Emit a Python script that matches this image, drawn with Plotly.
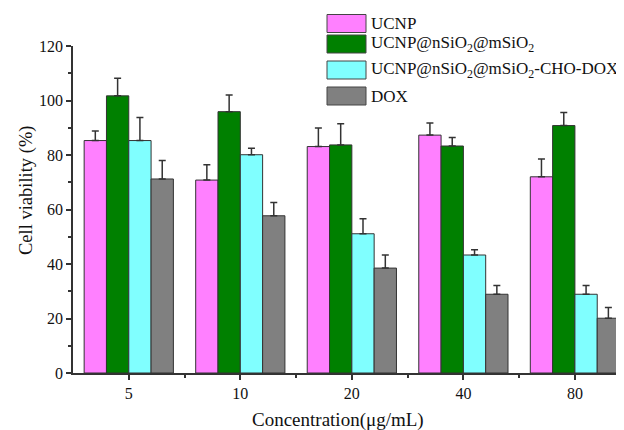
import plotly.graph_objects as go

categories = ["5", "10", "20", "40", "80"]
series_names = ["UCNP", "UCNP@nSiO<sub>2</sub>@mSiO<sub>2</sub>",
                "UCNP@nSiO<sub>2</sub>@mSiO<sub>2</sub>-CHO-DOX", "DOX"]
ucnp = [85.3, 70.8, 83.1, 87.3, 72.0]
ucnp_err = [3.5, 5.6, 6.8, 4.4, 6.5]
ucnp_si = [101.7, 95.9, 83.7, 83.3, 90.8]
ucnp_si_err = [6.5, 6.1, 7.8, 3.1, 4.8]
ucnp_dox = [85.3, 80.1, 51.1, 43.3, 28.9]
ucnp_dox_err = [8.5, 2.4, 5.5, 1.9, 3.2]
dox = [71.2, 57.7, 38.5, 28.9, 20.1]
dox_err = [6.8, 4.9, 4.8, 3.2, 3.9]
colors = ["#FF80FF", "#008000", "#80FFFF", "#808080"]
x_title = "Concentration(μg/mL)"
y_title = "Cell viability (%)"

values = [ucnp, ucnp_si, ucnp_dox, dox]
errors = [ucnp_err, ucnp_si_err, ucnp_dox_err, dox_err]

FONT = "Liberation Serif"
# page has an 8px body margin; figure sized so it ends at the window edge
OFF = 8
W, H = 624 - OFF, 430 - OFF
PL, PT, PB = 73, 46, 373          # plot area edges in page pixels
ML, MT = PL - OFF, PT - OFF
MR = 0
MB = H - (PB - OFF)
pw, ph = W - ML - MR, H - MT - MB


def px(x):
    return (x - PL) / pw


def py(y):
    return (PB - y) / ph


xs = list(range(len(categories)))
fig = go.Figure()
for name, vals, errs, col in zip(series_names, values, errors, colors):
    fig.add_trace(go.Bar(
        x=xs, y=vals, name=name,
        marker=dict(color=col, line=dict(color="#333333", width=1)),
        error_y=dict(type="data", symmetric=False, array=errs,
                     arrayminus=[0] * len(errs), color="#333333",
                     thickness=1.5, width=3.5),
        showlegend=False,
    ))

# legend drawn as boxes + labels (page-pixel rows)
row_y = [23.5, 44, 70, 96]
for name, col, ry in zip(series_names, colors, row_y):
    fig.add_shape(type="rect", xref="paper", yref="paper",
                  x0=px(327), x1=px(366), y0=py(ry - 9), y1=py(ry + 9),
                  fillcolor=col, line=dict(color="#444444", width=1))
    fig.add_annotation(xref="paper", yref="paper", x=px(369), y=py(ry),
                       text=name, showarrow=False,
                       xanchor="left", yanchor="middle",
                       font=dict(family=FONT, size=17, color="#111111"))

# axis titles
fig.add_annotation(xref="paper", yref="paper", x=px(338), y=py(420),
                   text=x_title, showarrow=False, xanchor="center",
                   yanchor="middle", font=dict(family=FONT, size=19, color="#111111"))
fig.add_annotation(xref="paper", yref="paper", x=px(26), y=py(191),
                   text=y_title, showarrow=False, textangle=-90,
                   xanchor="center", yanchor="middle",
                   font=dict(family=FONT, size=18.5, color="#111111"))

fig.update_layout(
    width=W, height=H,
    margin=dict(l=ML, r=MR, t=MT, b=MB),
    plot_bgcolor="white", paper_bgcolor="white",
    barmode="group", bargap=0.2, bargroupgap=0,
    font=dict(family=FONT, size=16, color="#111111"),
    xaxis=dict(
        range=[-0.5, 4.44], tickmode="array", tickvals=xs, ticktext=categories,
        showline=True, linecolor="#333333", linewidth=1.5,
        ticks="outside", ticklen=5, tickwidth=1.5, tickcolor="#333333",
        minor=dict(tickmode="array", tickvals=[0.5, 1.5, 2.5, 3.5],
                   ticks="outside", ticklen=3, tickwidth=1.5, tickcolor="#333333"),
        showgrid=False, zeroline=False,
    ),
    yaxis=dict(
        range=[0, 120], tickmode="linear", tick0=0, dtick=20,
        showline=True, linecolor="#333333", linewidth=1.5,
        ticks="outside", ticklen=5, tickwidth=1.5, tickcolor="#333333",
        minor=dict(dtick=10, tick0=0, ticks="outside", ticklen=3,
                   tickwidth=1.5, tickcolor="#333333"),
        showgrid=False, zeroline=False,
    ),
)

fig.write_html("out.html")
